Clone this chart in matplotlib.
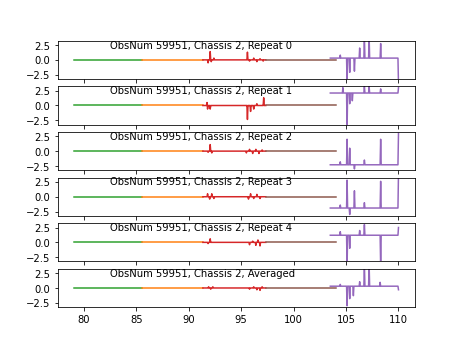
import numpy as np
import matplotlib
matplotlib.use("Agg")
import matplotlib.pyplot as plt

titles = ["ObsNum 59951, Chassis 2, Repeat 0", "ObsNum 59951, Chassis 2, Repeat 1",
          "ObsNum 59951, Chassis 2, Repeat 2", "ObsNum 59951, Chassis 2, Repeat 3",
          "ObsNum 59951, Chassis 2, Repeat 4", "ObsNum 59951, Chassis 2, Averaged"]

# frequency bands (GHz): start, stop, colour
band_start = [79.05, 85.55, 91.35, 97.35, 103.5]
band_stop = [85.55, 91.35, 97.35, 104.0, 110.0]
band_color = ["tab:green", "tab:orange", "tab:red", "tab:brown", "tab:purple"]

# red band spikes per panel: (freq, value)
red_spikes = [
    [(91.85, -0.5), (92.05, 1.4), (92.15, -0.3), (92.4, 0.3), (95.6, 1.3), (95.8, -0.2),
     (96.2, 0.3), (96.5, -0.3), (96.8, 0.2), (97.1, -0.2)],
    [(91.75, 0.5), (91.8, -0.6), (92.07, -0.6), (95.6, -2.35), (95.9, -1.0), (96.2, -0.6),
     (96.5, 0.3), (97.15, 1.3)],
    [(91.85, -0.2), (92.07, 1.1), (92.2, -0.3), (95.5, -0.3), (95.8, 0.3), (96.1, -0.4),
     (96.4, 0.3), (96.7, -0.4), (97.0, 0.2)],
    [(91.8, 0.5), (92.0, -0.4), (92.2, 0.5), (92.4, -0.3), (95.7, -0.4), (95.9, 0.5),
     (96.2, -0.3), (96.5, 0.4), (96.8, -0.3)],
    [(91.85, -0.2), (92.07, 0.6), (95.8, -0.4), (96.1, 0.2), (96.4, -0.5), (96.6, 0.4),
     (96.8, -0.6)],
    [(91.9, 0.2), (92.1, -0.2), (92.3, 0.2), (95.8, -0.2), (96.2, 0.2), (96.5, -0.3),
     (96.8, -0.4), (97.0, 0.2)],
]

# purple band baseline level per panel
purple_base = [0.3, 2.1, -2.3, -1.9, 1.2, 0.3]
# purple band spikes per panel: (freq, value)
purple_spikes = [
    [(104.45, 0.8), (105.1, -4.0), (105.35, -2.1), (105.8, -1.9), (106.3, 2.0),
     (106.75, 4.0), (107.2, 4.0), (108.3, 2.75), (110.0, -4.0)],
    [(104.7, 3.0), (105.1, -4.0), (105.35, 0.3), (105.6, 0.8), (106.75, 3.2),
     (107.2, 3.2), (108.3, 2.8), (110.0, 3.0)],
    [(104.45, -1.8), (105.1, 2.0), (105.35, 0.5), (105.8, -3.0), (106.75, -1.5),
     (108.3, 2.0), (110.0, 3.0)],
    [(104.45, -1.4), (105.1, 2.8), (105.35, -3.0), (105.8, 1.0), (106.75, -1.0),
     (108.3, 2.6), (110.0, 4.0)],
    [(104.45, 1.8), (105.1, -4.0), (105.35, -1.0), (106.3, 2.0), (106.75, 3.0),
     (108.3, -4.0), (110.0, 2.5)],
    [(104.45, 0.6), (105.1, -3.0), (105.35, -1.8), (105.7, -1.3), (106.3, 1.05),
     (106.75, 4.0), (107.2, 4.0), (108.25, 0.95), (110.0, -0.3)],
]

step = 0.05

def band_curve(start, stop, base, spikes):
    x = np.arange(start, stop + step / 2, step)
    y = np.full_like(x, base)
    for f, v in spikes:
        idx = int(np.argmin(np.abs(x - f)))
        y[idx] = v
    return x, y

fig, axes = plt.subplots(6, 1, sharex=True, figsize=(6.4, 4.8), dpi=72)
for i, ax in enumerate(axes):
    for b in range(5):
        if b == 2:
            spikes, base = red_spikes[i], 0.0
        elif b == 4:
            spikes, base = purple_spikes[i], purple_base[i]
        else:
            spikes, base = [], 0.0
        x, y = band_curve(band_start[b], band_stop[b], base, spikes)
        ax.plot(x, y, color=band_color[b], lw=1.5)
    ax.set_ylim(-3.2, 3.2)
    ax.text(82.5, 2.0, titles[i], fontsize=10)
axes[-1].set_xticks([80, 85, 90, 95, 100, 105, 110])
fig.savefig("out.png", dpi=72)
